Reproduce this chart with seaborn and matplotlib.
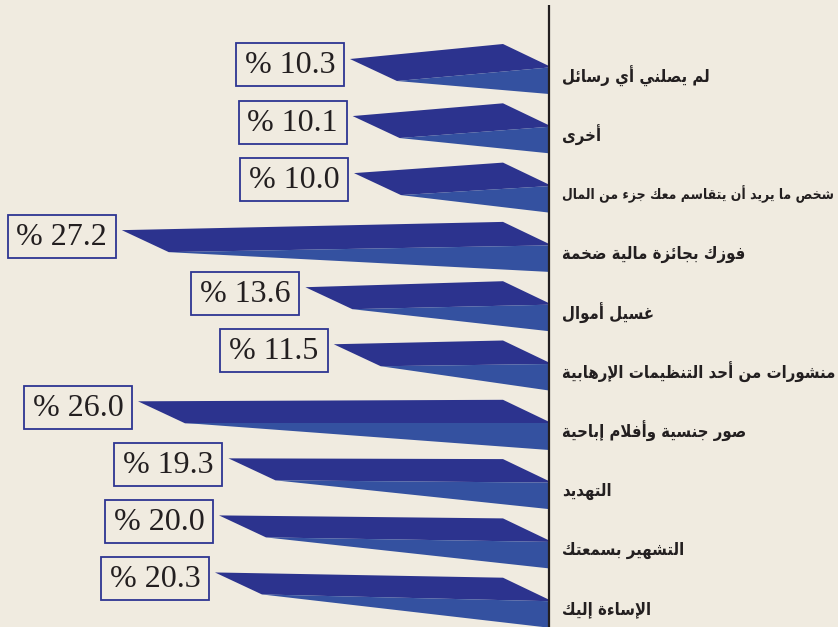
import matplotlib
matplotlib.use("Agg")
import matplotlib.pyplot as plt
from matplotlib.patches import Polygon, Rectangle
from matplotlib import font_manager
import seaborn as sns

# ---------------- data ----------------
categories = [
    "لم يصلني أي رسائل",
    "أخرى",
    "شخص ما يريد أن يتقاسم معك جزء من المال",
    "فوزك بجائزة مالية ضخمة",
    "غسيل أموال",
    "منشورات من أحد التنظيمات الإرهابية",
    "صور جنسية وأفلام إباحية",
    "التهديد",
    "التشهير بسمعتك",
    "الإساءة إليك",
]
values = [10.3, 10.1, 10.0, 27.2, 13.6, 11.5, 26.0, 19.3, 20.0, 20.3]
value_labels = [f"% {v:.1f}" for v in values]

# ---------------- Arabic shaping (presentation forms) ----------------
FORMS = {
    '\u0621': (0xFE80, 1),
    '\u0622': (0xFE81, 2), '\u0623': (0xFE83, 2), '\u0624': (0xFE85, 2),
    '\u0625': (0xFE87, 2), '\u0626': (0xFE89, 4), '\u0627': (0xFE8D, 2),
    '\u0628': (0xFE8F, 4), '\u0629': (0xFE93, 2), '\u062A': (0xFE95, 4),
    '\u062B': (0xFE99, 4), '\u062C': (0xFE9D, 4), '\u062D': (0xFEA1, 4),
    '\u062E': (0xFEA5, 4), '\u062F': (0xFEA9, 2), '\u0630': (0xFEAB, 2),
    '\u0631': (0xFEAD, 2), '\u0632': (0xFEAF, 2), '\u0633': (0xFEB1, 4),
    '\u0634': (0xFEB5, 4), '\u0635': (0xFEB9, 4), '\u0636': (0xFEBD, 4),
    '\u0637': (0xFEC1, 4), '\u0638': (0xFEC5, 4), '\u0639': (0xFEC9, 4),
    '\u063A': (0xFECD, 4), '\u0641': (0xFED1, 4), '\u0642': (0xFED5, 4),
    '\u0643': (0xFED9, 4), '\u0644': (0xFEDD, 4), '\u0645': (0xFEE1, 4),
    '\u0646': (0xFEE5, 4), '\u0647': (0xFEE9, 4), '\u0648': (0xFEED, 2),
    '\u0649': (0xFEEF, 2), '\u064A': (0xFEF1, 4),
}
LAMALEF = {'\u0622': 0xFEF5, '\u0623': 0xFEF7, '\u0625': 0xFEF9, '\u0627': 0xFEFB}


def shape_ar(text):
    toks = []
    i = 0
    while i < len(text):
        c = text[i]
        if c == '\u0644' and i + 1 < len(text) and text[i + 1] in LAMALEF:
            toks.append(('LA', text[i + 1]))
            i += 2
        else:
            toks.append(('C', c))
            i += 1

    def joins_left(t):
        return t[0] == 'C' and t[1] in FORMS and FORMS[t[1]][1] == 4

    def joins_right(t):
        return t[0] == 'LA' or (t[1] in FORMS and FORMS[t[1]][1] >= 2)

    out = []
    for k, t in enumerate(toks):
        prev = toks[k - 1] if k > 0 else None
        nxt = toks[k + 1] if k + 1 < len(toks) else None
        jp = prev is not None and joins_left(prev) and joins_right(t)
        jn = nxt is not None and joins_left(t) and joins_right(nxt)
        if t[0] == 'LA':
            out.append(chr(LAMALEF[t[1]] + (1 if jp else 0)))
        elif t[1] in FORMS:
            base, nf = FORMS[t[1]]
            if nf == 1:
                out.append(chr(base))
            elif nf == 2:
                out.append(chr(base + (1 if jp else 0)))
            else:
                off = 3 if (jp and jn) else 2 if jn else 1 if jp else 0
                out.append(chr(base + off))
        else:
            out.append(t[1])
    return ''.join(reversed(out))


# ---------------- style ----------------
BG = "#f0ebe0"
DARK = "#2c338e"
LIGHT = "#3451a0"
BOX = "#2e3592"
INK = "#231f20"

sns.set_theme(style="white", rc={"figure.facecolor": BG, "axes.facecolor": BG})

# pick a condensed bold DejaVu face if it is installed
label_fname = None
for f in font_manager.fontManager.ttflist:
    if f.name == "DejaVu Sans" and "Condensed" in f.fname and "Bold" in f.fname \
            and "Oblique" not in f.fname:
        label_fname = f.fname
        break


def label_props(size):
    if label_fname:
        return font_manager.FontProperties(fname=label_fname, size=size)
    return font_manager.FontProperties(family="DejaVu Sans", weight="bold", size=size - 1)


PX = 13.5   # pixels per percent
PY = 59.3   # pixels per row
X0 = 489.0  # pixel of zero
Y0 = 66.0   # pixel of first row
W, H = 838, 627

fig = plt.figure(figsize=(W / 100, H / 100), dpi=100)
ax = fig.add_axes([0, 0, 1, 1])
ax.set_xlim(X0 / PX, (X0 - W) / PX)
ax.set_ylim((H - Y0) / PY, -Y0 / PY)
ax.axis("off")

x_axis = -60 / PX
x_back = -14 / PX

labels = []
for i, (cat, v, lab) in enumerate(zip(categories, values, value_labels)):
    ya = i
    y_back = ya - 22 / PY
    y_tip = y_back + (15 - 2.25 * i) / PY
    x_tip = v
    x_fl = v - 47 / PX
    y_fl = y_tip + 22 / PY
    y_div = ya + 1.5 / PY
    y_bot = ya + 28 / PY

    ax.add_patch(Polygon([(x_tip, y_tip), (x_back, y_back), (x_axis, ya),
                          (x_axis, y_div), (x_fl, y_fl)],
                         closed=True, facecolor=DARK, edgecolor="none", zorder=2))
    ax.add_patch(Polygon([(x_fl, y_fl), (x_axis, y_div), (x_axis, y_bot)],
                         closed=True, facecolor=LIGHT, edgecolor="none", zorder=2))

    # value box
    bx_r = x_tip + 6 / PX
    bw = 108 / PX
    bh = 43 / PY
    by = y_tip + 6 / PY
    ax.add_patch(Rectangle((bx_r, by - bh / 2), bw, bh, facecolor="none",
                           edgecolor=BOX, linewidth=1.3, zorder=3))
    ax.text(bx_r + bw / 2, by + 1 / PY, lab, ha="center", va="center",
            fontsize=23, family="Liberation Serif", color=INK, zorder=4)

    # category label
    t = ax.text(x_axis - 13 / PX, ya + 10 / PY, shape_ar(cat), ha="left", va="center",
                fontproperties=label_props(12), color=INK, zorder=4)
    labels.append(t)

ax.plot([x_axis, x_axis], [(5 - Y0) / PY, (H - Y0) / PY], color=INK,
        linewidth=1.6, zorder=5, solid_capstyle="butt")

# shrink any label that would run past the right edge
fig.canvas.draw()
renderer = fig.canvas.get_renderer()
for t in labels:
    bb = t.get_window_extent(renderer)
    limit = W - 3
    if bb.x1 > limit:
        size = 12 * (limit - bb.x0) / bb.width
        t.set_fontproperties(label_props(size))

fig.savefig("out.png", dpi=100, facecolor=BG)
